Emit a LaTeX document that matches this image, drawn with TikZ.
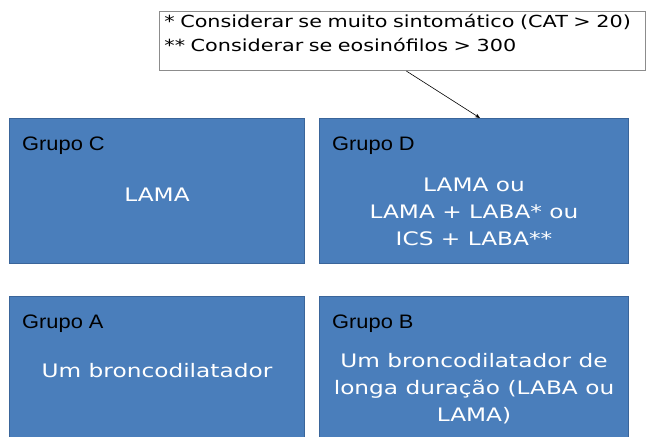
\documentclass[tikz,border=0pt]{standalone}
\usepackage{fontspec}
\setmainfont{Liberation Sans}
\newfontfamily\grupofont[FakeStretch=1.12]{Liberation Sans}
\newfontfamily\comicfont[FakeStretch=1.25]{DejaVu Sans}
\usepackage{tikz}
\usetikzlibrary{arrows.meta}
\usetikzlibrary{positioning}

\definecolor{grupofill}{HTML}{4A7EBB}
\definecolor{grupoline}{HTML}{3A659A}
\definecolor{notaline}{HTML}{8C8C8C}

\begin{document}
\begin{tikzpicture}
    [x=1pt,y=1pt,
    grupo/.style={rectangle,draw=grupoline,fill=grupofill,line width=1pt,
      inner sep=0pt,minimum width=295pt,minimum height=145pt},
    titulo/.style={anchor=north west,inner sep=0pt,text=black,
      font=\grupofont\fontsize{19.5}{22}\selectfont},
    corpo/.style={anchor=north,inner sep=0pt,text=white,align=center,
      font=\comicfont\fontsize{18.6}{27}\selectfont},
    nota/.style={rectangle,draw=notaline,fill=white,line width=0.8pt,
      inner xsep=5pt,inner ysep=3pt,text width=476pt,align=left,
      font=\comicfont\fontsize{16.6}{23.5}\selectfont}]

    \useasboundingbox (0,0) rectangle (647,-436);

    \node[grupo] (grupoC) [anchor=north west] at (9,-118)         {};
    \node[grupo,minimum width=309pt] (grupoD) [right=14pt of grupoC] {};
    \node[grupo,minimum height=160pt] (grupoA) [below=32pt of grupoC.south,anchor=north] {};
    \node[grupo,minimum height=160pt,minimum width=309pt] (grupoB) [right=14pt of grupoA] {};

    \node[titulo] (tituloC) [below right=19pt and 13pt of grupoC.north west] {Grupo C};
    \node[titulo] (tituloD) [below right=19pt and 13pt of grupoD.north west] {Grupo D};
    \node[titulo] (tituloA) [below right=19pt and 13pt of grupoA.north west] {Grupo A};
    \node[titulo] (tituloB) [below right=19pt and 13pt of grupoB.north west] {Grupo B};

    \node[corpo] (corpoC) [below=70pt of grupoC.north] {LAMA};
    \node[corpo] (corpoD) [below=60pt of grupoD.north]
      {LAMA ou\\LAMA + LABA* ou\\ICS + LABA**};
    \node[corpo] (corpoA) [below=67pt of grupoA.north] {Um broncodilatador};
    \node[corpo] (corpoB) [below=57pt of grupoB.north]
      {Um broncodilatador de\\longa duração (LABA ou\\LAMA)};

    \node[nota] (notaCAT) [anchor=north west] at (159,-11)
      {\mbox{* Considerar se muito sintomático (CAT > 20)}\\{}** Considerar se eosinófilos > 300\\[-7pt]\mbox{}};

    \draw[-{Stealth[length=5pt,width=4pt]},line width=0.6pt]
      ([xshift=4pt]notaCAT.south) -- ([xshift=6pt]grupoD.north);

  \end{tikzpicture}
\end{document}
